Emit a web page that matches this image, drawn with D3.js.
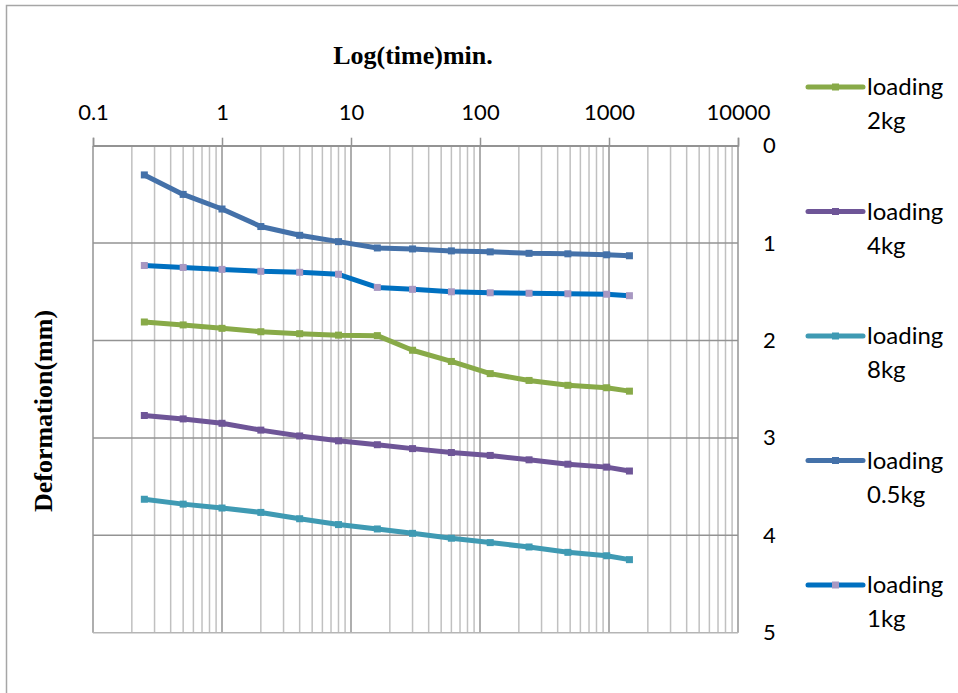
<!DOCTYPE html>
<html>
<head>
<meta charset="utf-8">
<script src="https://cdn.jsdelivr.net/npm/d3@7"></script>
<style>
  body { margin: 0; background: #fff; }
  svg { display: block; }
</style>
</head>
<body>
<div id="chart"></div>
<script>
// time readings (min) and settlement per load step
const times = [0.25, 0.5, 1, 2, 4, 8, 16, 30, 60, 120, 240, 480, 960, 1440];

const load2 = [1.81, 1.84, 1.875, 1.91, 1.93, 1.945, 1.95, 2.10, 2.215, 2.34, 2.41, 2.46, 2.485, 2.52];
const load4 = [2.77, 2.805, 2.85, 2.92, 2.98, 3.03, 3.07, 3.11, 3.15, 3.18, 3.225, 3.27, 3.30, 3.34];
const load8 = [3.63, 3.68, 3.72, 3.765, 3.83, 3.89, 3.935, 3.98, 4.03, 4.075, 4.12, 4.175, 4.21, 4.25];
const load05 = [0.30, 0.50, 0.65, 0.83, 0.92, 0.985, 1.05, 1.06, 1.08, 1.09, 1.105, 1.11, 1.12, 1.13];
const load1 = [1.23, 1.25, 1.27, 1.29, 1.30, 1.32, 1.455, 1.475, 1.50, 1.51, 1.515, 1.52, 1.525, 1.54];

const seriesNames = ["loading 2kg", "loading 4kg", "loading 8kg", "loading 0.5kg", "loading 1kg"];
const seriesValues = [load2, load4, load8, load05, load1];
const lineColors = ["#88AA48", "#6E5597", "#3F9AB3", "#4471A9", "#0070C0"];
const markerColors = ["#88AA48", "#6E5597", "#3F9AB3", "#4471A9", "#A898C2"];

const xTickValues = [0.1, 1, 10, 100, 1000, 10000];
const yTickValues = [0, 1, 2, 3, 4, 5];

const width = 958;
const height = 693;

const svg = d3.select("#chart")
    .append("svg")
    .attr("width", width)
    .attr("height", height);

// outer chart border
svg.append("path")
    .attr("d", "M6.5,693 V5.5 H958")
    .attr("fill", "none")
    .attr("stroke", "#A6A6A6")
    .attr("stroke-width", 1.5);

const x = d3.scaleLog()
    .domain([0.1, 10000])
    .range([93, 738]);

const y = d3.scaleLinear()
    .domain([0, 5])
    .range([145.7, 632.7]);

// minor vertical grid
const minor = x.ticks().filter(t => !xTickValues.includes(t));
svg.append("g")
    .selectAll("line")
    .data(minor)
    .join("line")
    .attr("x1", d => x(d)).attr("x2", d => x(d))
    .attr("y1", y(0)).attr("y2", y(5))
    .attr("stroke", "#C0C0C0")
    .attr("stroke-width", 1.5);

// major vertical grid
svg.append("g")
    .selectAll("line")
    .data(xTickValues)
    .join("line")
    .attr("x1", d => x(d)).attr("x2", d => x(d))
    .attr("y1", y(0)).attr("y2", y(5))
    .attr("stroke", "#939393")
    .attr("stroke-width", 1.5);

// horizontal grid
svg.append("g")
    .selectAll("line")
    .data(yTickValues)
    .join("line")
    .attr("x1", x(0.1)).attr("x2", x(10000))
    .attr("y1", d => y(d)).attr("y2", d => y(d))
    .attr("stroke", d => d === 5 ? "#B5B5B5" : "#939393")
    .attr("stroke-width", 1.5);

// top x axis
const xAxis = svg.append("g")
    .attr("transform", `translate(0,${y(0)})`)
    .call(d3.axisTop(x).tickValues(xTickValues).tickSize(8).tickPadding(18)
        .tickFormat(d => String(d)));
xAxis.select(".domain").attr("stroke", "#939393").attr("stroke-width", 1.5);
xAxis.selectAll(".tick line").attr("stroke", "#939393").attr("stroke-width", 1.5);
xAxis.selectAll(".tick text")
    .attr("fill", "#000")
    .style("font-family", "Lato, 'Open Sans', sans-serif")
    .style("font-size", "22px");

// right y axis labels
const yAxis = svg.append("g")
    .attr("transform", `translate(${x(10000)},0)`)
    .call(d3.axisRight(y).tickValues(yTickValues).tickSize(0).tickPadding(25)
        .tickFormat(d3.format("d")));
yAxis.select(".domain").remove();
yAxis.selectAll(".tick text")
    .attr("fill", "#000")
    .style("font-family", "Lato, 'Open Sans', sans-serif")
    .style("font-size", "22px");

// axis titles
svg.append("text")
    .attr("x", 413)
    .attr("y", 64)
    .attr("text-anchor", "middle")
    .style("font-family", "'Liberation Serif', 'Times New Roman', serif")
    .style("font-weight", "bold")
    .style("font-size", "26px")
    .text("Log(time)min.");

svg.append("text")
    .attr("transform", "translate(52,411) rotate(-90)")
    .attr("text-anchor", "middle")
    .style("font-family", "'Liberation Serif', 'Times New Roman', serif")
    .style("font-weight", "bold")
    .style("font-size", "26px")
    .text("Deformation(mm)");

// series
const line = d3.line()
    .x((d, i) => x(times[i]))
    .y(d => y(d));

seriesValues.forEach((vals, s) => {
    const g = svg.append("g");
    g.append("path")
        .datum(vals)
        .attr("d", line)
        .attr("fill", "none")
        .attr("stroke", lineColors[s])
        .attr("stroke-width", 5)
        .attr("stroke-linejoin", "round")
        .attr("stroke-linecap", "round");
    g.selectAll("rect")
        .data(vals)
        .join("rect")
        .attr("x", (d, i) => x(times[i]) - 3.5)
        .attr("y", d => y(d) - 3.5)
        .attr("width", 7)
        .attr("height", 7)
        .attr("fill", markerColors[s]);
});

// legend
const legend = svg.append("g")
    .selectAll("g")
    .data(seriesNames)
    .join("g")
    .attr("transform", (d, i) => `translate(808,${87 + i * 124.5})`);

legend.append("line")
    .attr("x1", 0).attr("x2", 55)
    .attr("stroke", (d, i) => lineColors[i])
    .attr("stroke-width", 5)
    .attr("stroke-linecap", "round");

legend.append("rect")
    .attr("x", 24).attr("y", -3.5)
    .attr("width", 7).attr("height", 7)
    .attr("fill", (d, i) => markerColors[i]);

legend.append("text")
    .attr("x", 59)
    .attr("y", 8)
    .style("font-family", "Lato, 'Open Sans', sans-serif")
    .style("font-size", "24px")
    .attr("fill", "#000")
    .each(function (d) {
        const parts = d.split(" ");
        const t = d3.select(this);
        t.append("tspan").attr("x", 59).text(parts[0]);
        t.append("tspan").attr("x", 59).attr("dy", 34).text(parts[1]);
    });
</script>
</body>
</html>
